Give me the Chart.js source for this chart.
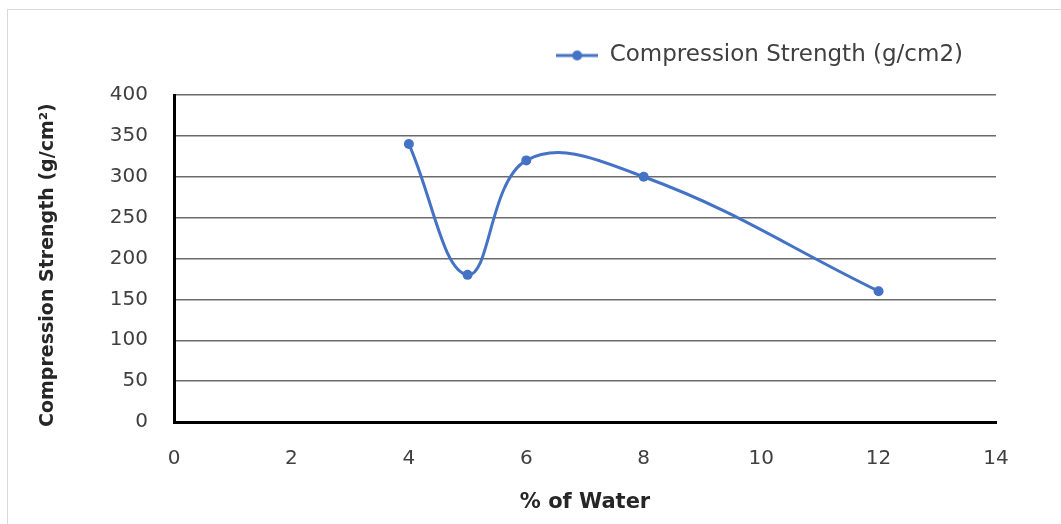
<!DOCTYPE html>
<html>
<head>
<meta charset="utf-8">
<script src="https://cdn.jsdelivr.net/npm/chart.js@4.4.1/dist/chart.umd.min.js"></script>
<style>
  html, body { margin: 0; padding: 0; background: #fff; overflow: hidden; }
  #wrap { position: relative; width: 1061px; height: 524px; overflow: hidden; }
  #frame { position: absolute; left: 7px; top: 9px; width: 1100px; height: 600px; border: 1px solid #d9d9d9; }
  #chart { position: absolute; left: 0; top: 0; }
</style>
</head>
<body>
<div id="wrap">
  <div id="frame"></div>
  <canvas id="chart" width="1061" height="524"></canvas>
</div>
<script>
(function () {
  "use strict";

  // ── Data ───────────────────────────────────
  const WATER_PCT = [4, 5, 6, 8, 12];
  const STRENGTH  = [340, 180, 320, 300, 160];
  const SERIES_LABEL = "Compression Strength (g/cm2)";
  const X_TITLE = "% of Water";
  // two trailing nbsp nudge the rotated title down a little, like the reference
  const Y_TITLE = "Compression Strength (g/cm\u00B2)\u00A0\u00A0";

  // ── Style ──────────────────────────────────
  const BLUE = "#4472c4";
  const TEXT = "#404040";
  const FONT = "'DejaVu Sans', sans-serif";

  // legend marker: line with a dot
  const marker = document.createElement("canvas");
  marker.width = 42;
  marker.height = 12;
  const m = marker.getContext("2d");
  m.strokeStyle = BLUE;
  m.lineWidth = 3;
  m.beginPath(); m.moveTo(0, 6); m.lineTo(42, 6); m.stroke();
  m.fillStyle = BLUE;
  m.beginPath(); m.arc(21, 6, 5, 0, Math.PI * 2); m.fill();

  // fixed legend height so the plot starts where the reference does
  const legendHeight = {
    id: "legendHeight",
    beforeInit(chart) {
      const fit = chart.legend.fit;
      chart.legend.fit = function () {
        fit.call(this);
        this.height = 84;
      };
    }
  };

  new Chart(document.getElementById("chart"), {
    type: "line",
    data: {
      datasets: [{
        label: SERIES_LABEL,
        data: WATER_PCT.map((x, i) => ({ x, y: STRENGTH[i] })),
        borderColor: BLUE,
        backgroundColor: BLUE,
        borderWidth: 3,
        pointRadius: 5,
        pointBackgroundColor: BLUE,
        pointBorderWidth: 0,
        tension: 0.4,
        fill: false
      }]
    },
    options: {
      responsive: false,
      animation: false,
      devicePixelRatio: 1,
      layout: { padding: { top: 11, right: 65, bottom: 0, left: 0 } },
      plugins: {
        legend: {
          position: "top",
          align: "end",
          labels: {
            usePointStyle: true,
            pointStyle: marker,
            pointStyleWidth: 42,
            padding: 33,
            color: TEXT,
            font: { family: FONT, size: 23 }
          }
        },
        tooltip: { enabled: false }
      },
      scales: {
        x: {
          type: "linear",
          min: 0,
          max: 14,
          ticks: { stepSize: 2, padding: 25, color: TEXT, font: { family: FONT, size: 20 } },
          grid: { display: false, drawTicks: false },
          border: { display: true, color: "#000", width: 3 },
          title: {
            display: true,
            text: X_TITLE,
            color: "#262626",
            font: { family: FONT, size: 21, weight: "bold" },
            padding: { top: 4, bottom: 9 }
          },
          afterFit(scale) { scale.height = 102; }
        },
        y: {
          min: 0,
          max: 400,
          ticks: { stepSize: 50, padding: 26, color: TEXT, font: { family: FONT, size: 20 } },
          grid: { color: "#6b6b6b", lineWidth: 1.5, drawTicks: false },
          border: { display: true, color: "#000", width: 3 },
          title: {
            display: true,
            text: Y_TITLE,
            color: "#262626",
            font: { family: FONT, size: 19, weight: "bold" },
            padding: { top: 37 }
          },
          afterFit(scale) { scale.width = 174; }
        }
      }
    },
    plugins: [legendHeight]
  });
})();
</script>
</body>
</html>
